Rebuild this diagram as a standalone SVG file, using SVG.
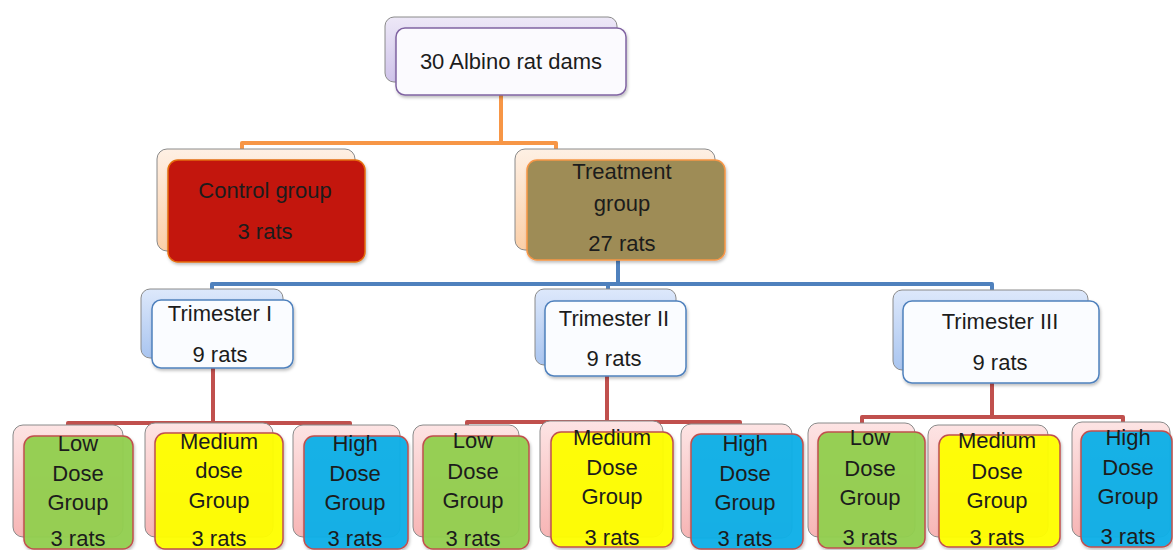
<svg xmlns="http://www.w3.org/2000/svg" width="1173" height="550" viewBox="0 0 1173 550">
<defs>
<linearGradient id="gLav" x1="0" y1="0" x2="0" y2="1"><stop offset="0" stop-color="#EDE8F7"/><stop offset="1" stop-color="#CFC3EA"/></linearGradient>
<linearGradient id="gPeach" x1="0" y1="0" x2="0" y2="1"><stop offset="0" stop-color="#FEF0E4"/><stop offset="1" stop-color="#FBCFA8"/></linearGradient>
<linearGradient id="gBlue" x1="0" y1="0" x2="0" y2="1"><stop offset="0" stop-color="#DDE8FB"/><stop offset="1" stop-color="#A9C5F0"/></linearGradient>
<linearGradient id="gPink" x1="0" y1="0" x2="0" y2="1"><stop offset="0" stop-color="#FDE4E4"/><stop offset="1" stop-color="#F7B5B5"/></linearGradient>
<filter id="sh" x="-10%" y="-10%" width="125%" height="130%"><feDropShadow dx="1" dy="2" stdDeviation="1.5" flood-color="#000" flood-opacity="0.25"/></filter>
</defs>
<style>
.t{font-family:"Liberation Sans",Arial,sans-serif;font-size:22px;fill:#1c1c1c;text-anchor:middle}
.b{stroke:#8a8a8a;stroke-width:1}
.f{filter:url(#sh)}
.lav{fill:url(#gLav)}
.peach{fill:url(#gPeach)}
.bl{fill:url(#gBlue)}
.pk{fill:url(#gPink)}
.top{fill:#FBFAFE;stroke:#8064A2;stroke-width:1.5}
.ctl{fill:#C3140F;stroke:#E46C0A;stroke-width:1.5}
.trt{fill:#9E8C57;stroke:#F79646;stroke-width:1.5}
.tri{fill:#FAFCFF;stroke:#4F81BD;stroke-width:1.5}
.low{fill:#92D050;stroke:#C0504D;stroke-width:1.5;fill-opacity:0.95}
.med{fill:#FFFF00;stroke:#C0504D;stroke-width:1.5;fill-opacity:0.95}
.hi{fill:#12B0E8;stroke:#C0504D;stroke-width:1.5;fill-opacity:0.95}
.c{fill:none;stroke-width:4;stroke-linejoin:round}
</style>
<g id="connectors">
<path class="c" stroke="#F79646" d="M501 95 V143 M242 151 V143 H556 V151"/>
<path class="c" stroke="#4F81BD" d="M618 260 V284 M212 292 V284 H992 V292 M608 284 V290"/>
<path class="c" stroke="#C0504D" d="M213 368 V423 M68 428 V423 H350 V428"/>
<path class="c" stroke="#C0504D" d="M607 376 V422 M467 427 V422 H740 V427"/>
<path class="c" stroke="#C0504D" d="M992 383 V417 M862 424 V417 H1123 V424"/>
</g>
<g id="n-root">
<rect class="lav b" x="385" y="17" width="232" height="65" rx="9"/>
<rect class="top f" x="396" y="28" width="230" height="67" rx="9"/>
<text class="t" x="511" y="69">30 Albino  rat dams</text>
</g>
<g id="n-control">
<rect class="peach b" x="157" y="149" width="198" height="102" rx="10"/>
<rect class="ctl f" x="168" y="160" width="197" height="102" rx="10"/>
<text class="t" x="265" y="198">Control group</text>
<text class="t" x="265" y="239">3 rats</text>
</g>
<g id="n-treatment">
<rect class="peach b" x="515" y="149" width="200" height="101" rx="10"/>
<rect class="trt f" x="527" y="160" width="198" height="100" rx="10"/>
<text class="t" x="622" y="179">Treatment</text>
<text class="t" x="622" y="211">group</text>
<text class="t" x="622" y="251">27 rats</text>
</g>
<g id="n-tri1">
<rect class="bl b" x="141" y="289" width="142" height="69" rx="9"/>
<rect class="tri f" x="152" y="300" width="141" height="68" rx="9"/>
<text class="t" x="220" y="321">Trimester I</text>
<text class="t" x="220" y="362">9 rats</text>
</g>
<g id="n-tri2">
<rect class="bl b" x="535" y="289" width="141" height="76" rx="9"/>
<rect class="tri f" x="545" y="301" width="141" height="75" rx="9"/>
<text class="t" x="614" y="326">Trimester II</text>
<text class="t" x="614" y="366">9 rats</text>
</g>
<g id="n-tri3">
<rect class="bl b" x="893" y="290" width="195" height="80" rx="9"/>
<rect class="tri f" x="903" y="301" width="196" height="82" rx="9"/>
<text class="t" x="1000" y="329">Trimester III</text>
<text class="t" x="1000" y="370">9 rats</text>
</g>
<g id="n-low1">
<rect class="pk b" x="13" y="425" width="110" height="112" rx="10"/>
<rect class="low f" x="24" y="436" width="109" height="113" rx="10"/>
<text class="t" x="78" y="451">Low</text>
<text class="t" x="78" y="481">Dose</text>
<text class="t" x="78" y="510">Group</text>
<text class="t" x="78" y="546">3 rats</text>
</g>
<g id="n-med1">
<rect class="pk b" x="145" y="423" width="128" height="114" rx="10"/>
<rect class="med f" x="155" y="433" width="128" height="116" rx="10"/>
<text class="t" x="219" y="449">Medium</text>
<text class="t" x="219" y="478">dose</text>
<text class="t" x="219" y="508">Group</text>
<text class="t" x="219" y="546">3 rats</text>
</g>
<g id="n-high1">
<rect class="pk b" x="293" y="425" width="107" height="112" rx="10"/>
<rect class="hi f" x="304" y="436" width="104" height="113" rx="10"/>
<text class="t" x="355" y="451">High</text>
<text class="t" x="355" y="481">Dose</text>
<text class="t" x="355" y="510">Group</text>
<text class="t" x="355" y="546">3 rats</text>
</g>
<g id="n-low2">
<rect class="pk b" x="413" y="425" width="106" height="112" rx="10"/>
<rect class="low f" x="423" y="436" width="106" height="113" rx="10"/>
<text class="t" x="473" y="448">Low</text>
<text class="t" x="473" y="479">Dose</text>
<text class="t" x="473" y="508">Group</text>
<text class="t" x="473" y="546">3 rats</text>
</g>
<g id="n-med2">
<rect class="pk b" x="540" y="421" width="123" height="116" rx="10"/>
<rect class="med f" x="551" y="432" width="122" height="115" rx="10"/>
<text class="t" x="612" y="445">Medium</text>
<text class="t" x="612" y="475">Dose</text>
<text class="t" x="612" y="504">Group</text>
<text class="t" x="612" y="545">3 rats</text>
</g>
<g id="n-high2">
<rect class="pk b" x="681" y="424" width="111" height="114" rx="10"/>
<rect class="hi f" x="691" y="434" width="112" height="115" rx="10"/>
<text class="t" x="745" y="451">High</text>
<text class="t" x="745" y="481">Dose</text>
<text class="t" x="745" y="510">Group</text>
<text class="t" x="745" y="546">3 rats</text>
</g>
<g id="n-low3">
<rect class="pk b" x="808" y="423" width="107" height="114" rx="10"/>
<rect class="low f" x="818" y="432" width="107" height="116" rx="10"/>
<text class="t" x="870" y="445">Low</text>
<text class="t" x="870" y="476">Dose</text>
<text class="t" x="870" y="505">Group</text>
<text class="t" x="870" y="545">3 rats</text>
</g>
<g id="n-med3">
<rect class="pk b" x="928" y="425" width="120" height="112" rx="10"/>
<rect class="med f" x="939" y="435" width="121" height="112" rx="10"/>
<text class="t" x="997" y="448">Medium</text>
<text class="t" x="997" y="479">Dose</text>
<text class="t" x="997" y="508">Group</text>
<text class="t" x="997" y="545">3 rats</text>
</g>
<g id="n-high3">
<rect class="pk b" x="1072" y="422" width="98" height="115" rx="10"/>
<rect class="hi f" x="1081" y="431" width="91" height="116" rx="10"/>
<text class="t" x="1128" y="445">High</text>
<text class="t" x="1128" y="475">Dose</text>
<text class="t" x="1128" y="504">Group</text>
<text class="t" x="1128" y="544">3 rats</text>
</g>
</svg>
